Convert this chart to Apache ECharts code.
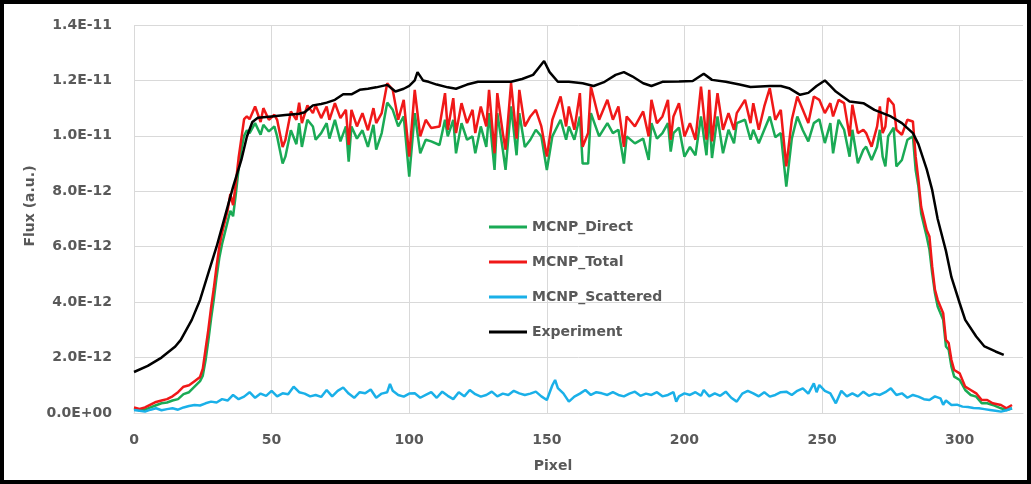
<!DOCTYPE html>
<html>
<head>
<meta charset="utf-8">
<script src="https://cdn.jsdelivr.net/npm/echarts@6/dist/echarts.min.js"></script>
<style>
  html, body { margin: 0; padding: 0; background: #fff; }
  #chart { width: 1031px; height: 484px; }
</style>
</head>
<body>
<div id="chart"></div>
<script>
// Flux profile along detector pixels (values in units of 1E-12)

// shared pixel positions for the two MCNP flux curves
const mcnpX = [
    0, 2, 4, 6, 8, 10, 12, 14, 16, 18, 20, 22, 24, 25, 26, 27, 28, 29, 30, 31, 32, 33, 34, 35, 36, 37, 38, 39, 40,
    41, 42, 44, 46, 47, 49, 51, 52, 54, 55, 57, 59, 60, 61, 63, 65, 66, 68, 70, 71, 73, 75, 77, 78, 79,
    81, 83, 85, 87, 88, 90, 92, 94, 96, 98, 100, 102, 104,
    106, 108, 111, 113, 114, 116, 117, 119, 121, 123, 124, 126, 128, 129, 131, 132, 134, 135, 137, 139,
    140, 142, 144, 146, 148, 150, 152, 155, 157, 158, 160, 162, 163, 165, 166, 169, 172, 174, 176, 178,
    179, 182, 185, 187, 188, 190, 192, 194, 195, 196, 198, 200, 202, 204, 206, 208, 209, 210, 212, 214,
    216, 218, 219, 222, 224, 225, 227, 229, 231, 233, 235, 237, 239, 241, 243, 245, 247, 249,
    251, 253, 254, 256, 258, 260, 261, 263, 265, 266, 268, 270, 271, 272, 273, 274, 276, 277, 279, 281,
    283, 284, 285, 286, 288, 289, 290, 291, 292, 294, 295, 296, 297, 298, 300, 302, 304, 306, 308, 310,
    312, 315, 317, 319
];

const directY = [
    0.15, 0.1, 0.12, 0.2, 0.28, 0.35, 0.38, 0.45, 0.5, 0.68, 0.75, 0.95, 1.15, 1.35, 1.9, 2.6, 3.4, 4.1, 4.9, 5.6, 6.1, 6.5, 6.9, 7.3, 7.1, 7.9, 8.8, 9.5, 10.0,
    10.2, 10.1, 10.46, 10.04, 10.4, 10.16, 10.34, 9.98, 9.0, 9.25, 10.2, 9.7, 10.46, 9.6, 10.58, 10.34, 9.86, 10.1, 10.46, 9.9, 10.58, 9.8, 10.34, 9.07, 10.34,
    9.9, 10.2, 9.6, 10.4, 9.5, 10.1, 11.2, 10.94, 10.34, 10.7, 8.53, 10.82, 9.37,
    9.86, 9.8, 9.67, 10.58, 9.98, 10.58, 9.37, 10.46, 9.86, 9.98, 9.37, 10.34, 9.6, 10.82, 8.77, 10.82, 9.5, 8.77, 11.06, 9.3,
    10.82, 9.6, 9.86, 10.22, 9.98, 8.77, 9.98, 10.58, 9.86, 10.34, 9.86, 10.7, 9.0, 9.0, 10.82, 9.98, 10.46, 10.1, 10.22, 9.0,
    9.98, 9.73, 9.9, 9.13, 10.46, 9.9, 10.1, 10.46, 9.43, 10.1, 10.3, 9.25, 9.6, 9.3, 10.7, 9.3, 10.82, 9.2, 10.7, 9.37,
    10.22, 9.73, 10.46, 10.58, 9.86, 10.22, 9.73, 10.22, 10.7, 9.95, 10.1, 8.17, 9.9, 10.7, 10.2, 9.8, 10.46, 10.6,
    9.74, 10.46, 9.37, 10.58, 10.22, 9.25, 10.22, 9.01, 9.5, 9.61, 9.13, 9.61, 10.22, 9.25, 8.9, 9.98, 10.3, 8.9, 9.13, 9.86,
    9.98, 8.77, 8.17, 7.2, 6.37, 5.9, 5.05, 4.33, 3.84, 3.36, 2.4, 2.28, 1.67, 1.31, 1.19, 0.83, 0.65, 0.59, 0.35, 0.35,
    0.29, 0.17, 0.11, 0.17
];

const totalY = [
    0.2, 0.15, 0.2, 0.3, 0.4, 0.45, 0.5, 0.6, 0.75, 0.95, 1.0, 1.15, 1.3, 1.6, 2.3, 3.0, 3.8, 4.5, 5.3, 6.0, 6.5, 6.9, 7.3, 7.9, 7.5, 8.3, 9.2, 9.9, 10.6,
    10.7, 10.6, 11.06, 10.5, 11.0, 10.58, 10.76, 10.58, 9.6, 9.85, 10.88, 10.58, 11.2, 10.46, 11.1, 10.82, 11.1, 10.64, 11.06, 10.58, 11.18, 10.64, 10.94, 9.67, 10.94,
    10.34, 10.82, 10.2, 11.0, 10.46, 10.82, 11.9, 11.66, 10.58, 11.3, 9.25, 11.66, 9.98,
    10.58, 10.28, 10.34, 11.54, 10.22, 11.36, 10.1, 11.18, 10.46, 10.94, 10.1, 11.06, 10.34, 11.66, 9.37, 11.54, 10.1, 9.5, 11.9, 9.9,
    11.66, 10.34, 10.7, 10.94, 10.34, 9.25, 10.58, 11.42, 10.34, 11.06, 10.22, 11.54, 9.61, 10.1, 11.78, 10.58, 11.3, 10.58, 11.06, 9.6,
    10.7, 10.34, 10.88, 9.98, 11.3, 10.46, 10.7, 11.3, 9.86, 10.7, 11.18, 9.98, 10.46, 9.86, 11.78, 9.86, 11.66, 9.8, 11.54, 10.22,
    10.82, 10.22, 10.82, 11.3, 10.46, 11.18, 10.22, 11.06, 11.72, 10.58, 10.94, 8.9, 10.58, 11.42, 10.94, 10.46, 11.42, 11.3,
    10.82, 11.18, 10.7, 11.3, 11.18, 9.98, 11.12, 10.1, 10.22, 10.1, 9.61, 10.34, 11.06, 10.1, 10.34, 11.36, 11.12, 10.22, 10.04, 10.58,
    10.52, 9.25, 8.41, 7.44, 6.6, 6.37, 5.29, 4.45, 4.08, 3.6, 2.64, 2.52, 1.91, 1.55, 1.43, 0.95, 0.83, 0.71, 0.47, 0.47,
    0.35, 0.29, 0.17, 0.29
];

const scatterX = [
    0, 2, 4, 6, 8, 10, 12, 14, 16, 18,
    20, 22, 24, 26, 28, 30, 32, 34, 36, 38,
    40, 42, 44, 46, 48, 50, 52, 54, 56, 58,
    60, 62, 64, 66, 68, 70, 72, 74, 76, 78,
    80, 82, 84, 86, 88, 90, 92, 93, 94, 96,
    98, 100, 102, 104, 106, 108, 110, 112, 114, 116,
    118, 120, 122, 124, 126, 128, 130, 132, 134, 136,
    138, 140, 142, 144, 146, 148, 150, 152, 153, 154,
    156, 158, 160, 162, 164, 166, 168, 170, 172, 174,
    176, 178, 180, 182, 184, 186, 188, 190, 192, 194,
    196, 197, 198, 200, 202, 204, 206, 207, 209, 211,
    213, 215, 217, 219, 221, 223, 225, 227, 229, 231,
    233, 235, 237, 239, 241, 243, 245, 247, 248, 249,
    251, 253, 255, 257, 259, 261, 263, 265, 267, 269,
    271, 273, 275, 277, 279, 281, 283, 285, 287, 289,
    291, 293, 294, 295, 297, 299, 301, 303, 305, 307,
    309, 311, 313, 315, 317, 319
];

const scatterY = [
    0.11, 0.08, 0.05, 0.12, 0.17, 0.1, 0.14, 0.17, 0.12, 0.2,
    0.25, 0.29, 0.27, 0.35, 0.41, 0.38, 0.5, 0.45, 0.65, 0.5,
    0.59, 0.75, 0.55, 0.7, 0.62, 0.8, 0.6, 0.71, 0.68, 0.95,
    0.75, 0.7, 0.6, 0.65, 0.58, 0.83, 0.6, 0.8, 0.92, 0.7,
    0.55, 0.75, 0.71, 0.85, 0.55, 0.7, 0.75, 1.05, 0.8, 0.65,
    0.59, 0.7, 0.71, 0.55, 0.65, 0.75, 0.55, 0.77, 0.62, 0.5,
    0.75, 0.6, 0.83, 0.68, 0.59, 0.65, 0.77, 0.6, 0.7, 0.65,
    0.8, 0.71, 0.65, 0.7, 0.77, 0.6, 0.47, 1.0, 1.19, 0.9,
    0.71, 0.41, 0.59, 0.7, 0.83, 0.65, 0.75, 0.71, 0.65, 0.75,
    0.65, 0.6, 0.7, 0.77, 0.62, 0.7, 0.65, 0.75, 0.6, 0.65,
    0.75, 0.41, 0.6, 0.71, 0.65, 0.75, 0.62, 0.83, 0.6, 0.71,
    0.62, 0.77, 0.55, 0.41, 0.7, 0.8, 0.71, 0.6, 0.75, 0.59,
    0.65, 0.75, 0.77, 0.65, 0.8, 0.89, 0.7, 1.07, 0.75, 1.01,
    0.8, 0.71, 0.35, 0.8, 0.6, 0.71, 0.6, 0.77, 0.62, 0.7,
    0.65, 0.75, 0.89, 0.65, 0.71, 0.55, 0.65, 0.59, 0.5, 0.47,
    0.6, 0.53, 0.3, 0.45, 0.29, 0.3, 0.23, 0.22, 0.18, 0.17,
    0.14, 0.11, 0.08, 0.05, 0.1, 0.17
];

const expX = [
    0, 5, 10, 15, 17, 19, 21, 24, 27, 30,
    34, 36, 39, 41, 43, 45, 50, 55, 60, 62,
    65, 68, 70, 73, 76, 79, 82, 85, 88, 92,
    95, 98, 100, 102, 103, 105, 107, 110, 114, 117,
    121, 125, 130, 134, 137, 141, 145, 147, 149, 151,
    154, 158, 163, 167, 171, 175, 178, 181, 185, 188,
    192, 198, 203, 207, 210, 215, 220, 224, 231, 235,
    238, 242, 245, 248, 251, 253, 255, 260, 265, 269,
    275, 279, 283, 285, 288, 290, 292, 295, 297, 300,
    302, 306, 309, 313, 316
];

const expY = [
    1.48, 1.7, 2.0, 2.4, 2.64, 3.0, 3.36, 4.08, 5.05, 6.0,
    7.44, 8.16, 9.13, 9.97, 10.5, 10.65, 10.7, 10.75, 10.8, 10.85,
    11.1, 11.15, 11.2, 11.3, 11.5, 11.5, 11.66, 11.7, 11.75, 11.84,
    11.6, 11.7, 11.8, 12.0, 12.3, 12.0, 11.95, 11.85, 11.75, 11.7,
    11.85, 11.95, 11.95, 11.95, 11.95, 12.05, 12.2, 12.45, 12.7, 12.3,
    11.95, 11.95, 11.9, 11.8, 11.95, 12.2, 12.3, 12.15, 11.9, 11.8,
    11.95, 11.96, 11.98, 12.24, 12.02, 11.95, 11.85, 11.76, 11.8, 11.8,
    11.72, 11.48, 11.55, 11.8, 12.0, 11.8, 11.6, 11.24, 11.18, 10.94,
    10.7, 10.46, 10.1, 9.7, 8.8, 8.05, 7.0, 5.85, 4.9, 3.96,
    3.36, 2.76, 2.4, 2.22, 2.1
];

const seriesNames = ['MCNP_Direct', 'MCNP_Total', 'MCNP_Scattered', 'Experiment'];
const yTickLabels = ['0.0E+00', '2.0E-12', '4.0E-12', '6.0E-12', '8.0E-12', '1.0E-11', '1.2E-11', '1.4E-11'];

const colors = {
    direct: '#1aaa55',
    total: '#f01818',
    scattered: '#1ab0e8',
    experiment: '#000000',
    text: '#595959',
    grid: '#d9d9d9'
};

const FONT = 'DejaVu Sans';

function pairs(xs, ys) {
    return xs.map((x, i) => [x, ys[i]]);
}

function lineSeries(name, data, color) {
    return {
        name: name,
        type: 'line',
        data: data,
        symbol: 'none',
        showSymbol: false,
        lineStyle: { width: 2.5, color: color },
        itemStyle: { color: color },
        emphasis: { disabled: true }
    };
}

const chart = echarts.init(document.getElementById('chart'));
const option = {
    animation: false,
    grid: { left: 134, right: 8, top: 25, bottom: 71 },
    legend: {
        data: seriesNames,
        orient: 'vertical',
        left: 484,
        top: 215,
        icon: 'rect',
        itemWidth: 38,
        itemHeight: 3,
        itemGap: 21,
        textStyle: { fontFamily: FONT, fontSize: 14, fontWeight: 'bold', color: colors.text }
    },
    xAxis: {
        type: 'value',
        min: 0,
        max: 323,
        interval: 50,
        axisLine: { show: true, lineStyle: { color: colors.grid, width: 1 } },
        axisTick: { show: false },
        splitLine: {
            show: true,
            // last entry hides the line at the axis max
            lineStyle: { color: [colors.grid, colors.grid, colors.grid, colors.grid, colors.grid, colors.grid, colors.grid, 'rgba(0,0,0,0)'], width: 1 }
        },
        axisLabel: {
            margin: 20,
            showMaxLabel: false,
            fontFamily: FONT, fontSize: 14, fontWeight: 'bold', color: colors.text
        }
    },
    yAxis: {
        type: 'value',
        min: 0,
        max: 14,
        interval: 2,
        axisLine: { show: false },
        axisTick: { show: false },
        splitLine: { show: true, lineStyle: { color: colors.grid, width: 1 } },
        axisLabel: {
            margin: 22,
            fontFamily: FONT, fontSize: 14, fontWeight: 'bold', color: colors.text,
            formatter: v => yTickLabels[Math.round(v / 2)]
        }
    },
    graphic: [
        {
            type: 'text', x: 30, y: 206, rotation: Math.PI / 2,
            style: {
                text: 'Flux (a.u.)', align: 'center', verticalAlign: 'middle',
                font: 'bold 14px "DejaVu Sans"', fill: colors.text
            }
        },
        {
            type: 'text', x: 553, y: 466,
            style: {
                text: 'Pixel', align: 'center', verticalAlign: 'middle',
                font: 'bold 14px "DejaVu Sans"', fill: colors.text
            }
        },
        {
            type: 'rect', silent: true,
            shape: { x: 2, y: 2, width: 1027, height: 480 },
            style: { fill: 'none', stroke: '#000', lineWidth: 4 }
        }
    ],
    series: [
        lineSeries(seriesNames[0], pairs(mcnpX, directY), colors.direct),
        lineSeries(seriesNames[1], pairs(mcnpX, totalY), colors.total),
        lineSeries(seriesNames[2], pairs(scatterX, scatterY), colors.scattered),
        lineSeries(seriesNames[3], pairs(expX, expY), colors.experiment)
    ]
};
chart.setOption(option);
</script>
</body>
</html>
